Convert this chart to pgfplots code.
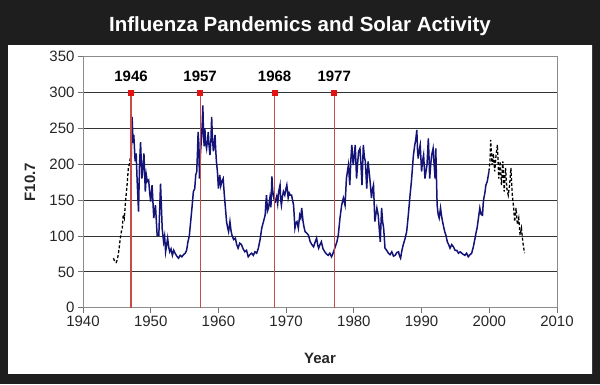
\documentclass[border=0pt]{standalone}
\usepackage{pgfplots}
\pgfplotsset{compat=1.18}
\usepackage{fontspec}
\setmainfont{Liberation Sans}
\definecolor{bgdark}{RGB}{30,30,30}
\definecolor{navyline}{RGB}{20,20,120}
\definecolor{redline}{RGB}{200,75,75}
\definecolor{redmark}{RGB}{225,20,20}
\definecolor{paneltop}{RGB}{192,192,192}
\definecolor{panelbot}{RGB}{208,208,208}
\pgfdeclareverticalshading{panelshade}{100bp}{color(0bp)=(panelbot); color(22bp)=(white); color(88bp)=(white); color(100bp)=(paneltop)}
\begin{document}
\begin{tikzpicture}
\fill[bgdark] (0pt,0pt) rectangle (600pt,384pt);
\shade[shading=panelshade] (8pt,11pt) rectangle (592pt,339pt);
\node[font=\bfseries\fontsize{20.5}{24}\selectfont, text=white] at (300pt,358pt) {Influenza Pandemics and Solar Activity};
\begin{axis}[
  at={(83pt,76.3pt)}, anchor=south west,
  scale only axis, width=474pt, height=251pt,
  xmin=1940, xmax=2010, ymin=0, ymax=350,
  xtick={1940,1950,...,2010}, ytick={0,50,...,350},
  xtick pos=left, ytick pos=left,
  tick align=outside, major tick length=5pt,
  tick style={black!55, line width=0.8pt},
  axis line style={black!45, line width=0.8pt},
  ymajorgrids, major grid style={black!80, line width=0.7pt},
  /pgf/number format/1000 sep={},
  /pgf/number format/assume math mode=true,
  ticklabel style={font=\fontsize{15}{18}\selectfont, text=black!85},
  xlabel={Year}, ylabel={F10.7},
  label style={font=\bfseries\fontsize{15}{18}\selectfont, text=black!85},
  xlabel style={at={(axis description cs:0.5,-0.203)}, anchor=center},
  ylabel style={at={(axis description cs:-0.112,0.5)}, anchor=center},
]
% early dashed estimate
\addplot[black, line width=1.3pt, dash pattern=on 3pt off 2pt] coordinates {
(1944.5,69)(1944.7,64)(1944.9,63)(1945.1,68)(1945.3,80)(1945.5,96)(1945.7,108)(1945.8,111)(1945.95,130)(1946.1,125)(1946.3,150)(1946.5,170)(1946.7,195)(1946.85,200)(1947.0,210)(1947.1,215)
};
% measured F10.7
\addplot[navyline, line width=1.5pt] coordinates {
(1947.1,199)(1947.25,266)(1947.4,230)(1947.5,241)(1947.7,204)(1947.85,215)(1948.0,176)(1948.2,134)(1948.35,200)(1948.5,231)(1948.7,180)(1948.85,195)(1949.0,215)(1949.2,162)(1949.35,185)(1949.5,176)(1949.7,178)(1949.85,160)(1950.0,148)(1950.2,171)(1950.45,125)(1950.7,143)(1950.95,101)(1951.2,101)(1951.45,173)(1951.7,110)(1951.9,92)(1952.05,100)(1952.2,78)(1952.5,97)(1952.65,85)(1952.8,78)(1953.0,82)(1953.2,73)(1953.4,80)(1953.6,76)(1953.85,72)(1954.1,69)(1954.35,73)(1954.6,71)(1954.85,74)(1955.1,76)(1955.3,80)(1955.5,92)(1955.7,100)(1955.9,120)(1956.1,140)(1956.3,162)(1956.5,166)(1956.65,185)(1956.8,190)(1956.9,215)(1957.0,245)(1957.1,230)(1957.2,180)(1957.35,215)(1957.45,230)(1957.6,255)(1957.7,282)(1957.8,240)(1957.9,225)(1958.0,250)(1958.1,230)(1958.25,222)(1958.4,235)(1958.5,245)(1958.6,228)(1958.75,213)(1958.9,235)(1959.0,266)(1959.1,240)(1959.25,218)(1959.4,230)(1959.5,241)(1959.6,220)(1959.7,204)(1959.85,190)(1960.0,166)(1960.2,185)(1960.35,170)(1960.5,176)(1960.7,180)(1960.85,160)(1961.0,143)(1961.2,120)(1961.35,112)(1961.5,106)(1961.7,120)(1961.85,108)(1962.0,101)(1962.25,95)(1962.5,97)(1962.7,88)(1962.9,83)(1963.15,90)(1963.4,88)(1963.65,82)(1963.9,78)(1964.15,80)(1964.4,71)(1964.65,74)(1964.9,76)(1965.15,73)(1965.4,78)(1965.65,76)(1965.9,83)(1966.15,95)(1966.4,111)(1966.65,120)(1966.9,129)(1967.0,145)(1967.1,157)(1967.25,135)(1967.4,139)(1967.6,153)(1967.75,140)(1967.9,183)(1968.0,165)(1968.1,157)(1968.25,150)(1968.4,148)(1968.6,155)(1968.75,145)(1968.9,162)(1969.1,171)(1969.2,150)(1969.3,143)(1969.45,155)(1969.6,162)(1969.8,157)(1969.95,165)(1970.1,171)(1970.3,153)(1970.45,160)(1970.6,157)(1970.8,157)(1970.95,150)(1971.1,143)(1971.3,111)(1971.45,118)(1971.6,120)(1971.8,111)(1972.0,129)(1972.15,125)(1972.3,139)(1972.5,120)(1972.65,112)(1972.8,106)(1973.05,104)(1973.3,101)(1973.55,92)(1973.8,88)(1974.05,85)(1974.3,92)(1974.5,97)(1974.65,88)(1974.8,83)(1975.0,88)(1975.2,92)(1975.45,82)(1975.7,78)(1975.95,75)(1976.2,73)(1976.45,76)(1976.7,71)(1976.85,74)(1977.0,78)(1977.25,85)(1977.5,92)(1977.7,101)(1977.95,125)(1978.2,143)(1978.45,153)(1978.7,143)(1978.9,180)(1979.05,190)(1979.2,199)(1979.4,171)(1979.55,205)(1979.7,227)(1979.9,199)(1980.05,210)(1980.2,227)(1980.4,180)(1980.55,200)(1980.7,218)(1980.9,222)(1981.05,200)(1981.2,171)(1981.4,227)(1981.55,210)(1981.7,204)(1981.9,166)(1982.1,204)(1982.25,190)(1982.4,176)(1982.6,153)(1982.75,165)(1982.9,171)(1983.1,120)(1983.25,130)(1983.4,139)(1983.6,129)(1983.75,110)(1983.9,92)(1984.1,139)(1984.25,120)(1984.4,111)(1984.6,83)(1984.85,80)(1985.1,76)(1985.35,74)(1985.6,78)(1985.85,72)(1986.1,73)(1986.35,77)(1986.6,78)(1986.75,72)(1986.9,69)(1987.1,80)(1987.3,88)(1987.55,96)(1987.8,106)(1988.05,130)(1988.3,157)(1988.5,176)(1988.65,195)(1988.8,213)(1989.0,227)(1989.15,235)(1989.3,248)(1989.4,220)(1989.5,208)(1989.65,220)(1989.8,227)(1990.0,190)(1990.15,205)(1990.3,213)(1990.5,180)(1990.65,190)(1990.8,199)(1991.0,236)(1991.1,210)(1991.2,180)(1991.35,200)(1991.5,213)(1991.7,222)(1991.85,200)(1992.0,180)(1992.1,222)(1992.2,180)(1992.3,143)(1992.45,130)(1992.6,125)(1992.8,139)(1992.95,128)(1993.1,120)(1993.3,111)(1993.45,105)(1993.6,101)(1993.8,92)(1994.0,88)(1994.2,83)(1994.45,88)(1994.7,85)(1994.95,80)(1995.2,80)(1995.45,76)(1995.7,78)(1996.05,75)(1996.4,73)(1996.65,76)(1996.9,71)(1997.15,74)(1997.4,76)(1997.65,85)(1997.9,97)(1998.05,105)(1998.2,111)(1998.4,125)(1998.6,139)(1998.8,130)(1999.0,129)(1999.1,145)(1999.2,153)(1999.35,160)(1999.5,171)(1999.7,176)(1999.95,190)
};
% late dashed estimate
\addplot[black, line width=1.3pt, dash pattern=on 3pt off 2pt] coordinates {
(1999.95,190)(2000.1,204)(2000.2,234)(2000.4,199)(2000.6,215)(2000.8,190)(2001.0,213)(2001.2,227)(2001.4,180)(2001.6,204)(2001.8,171)(2002.0,204)(2002.2,162)(2002.4,195)(2002.6,166)(2002.8,157)(2003.0,171)(2003.2,195)(2003.4,157)(2003.6,139)(2003.75,120)(2003.95,139)(2004.15,116)(2004.35,125)(2004.55,101)(2004.75,111)(2004.95,92)(2005.2,76)
};
% pandemic years
\addplot[ycomb, redline, line width=1.2pt, mark=square*, mark size=2.4pt,
  mark options={fill=redmark, draw=redmark},
  nodes near coords, point meta=explicit symbolic,
  every node near coord/.append style={font=\bfseries\fontsize{15}{18}\selectfont, text=black, anchor=south, yshift=7pt}]
  table[row sep=\\, meta=lab] {
x y lab\\
1947.1 300 1946\\
1957.3 300 1957\\
1968.3 300 1968\\
1977.1 300 1977\\
};
\end{axis}
\end{tikzpicture}
\end{document}
